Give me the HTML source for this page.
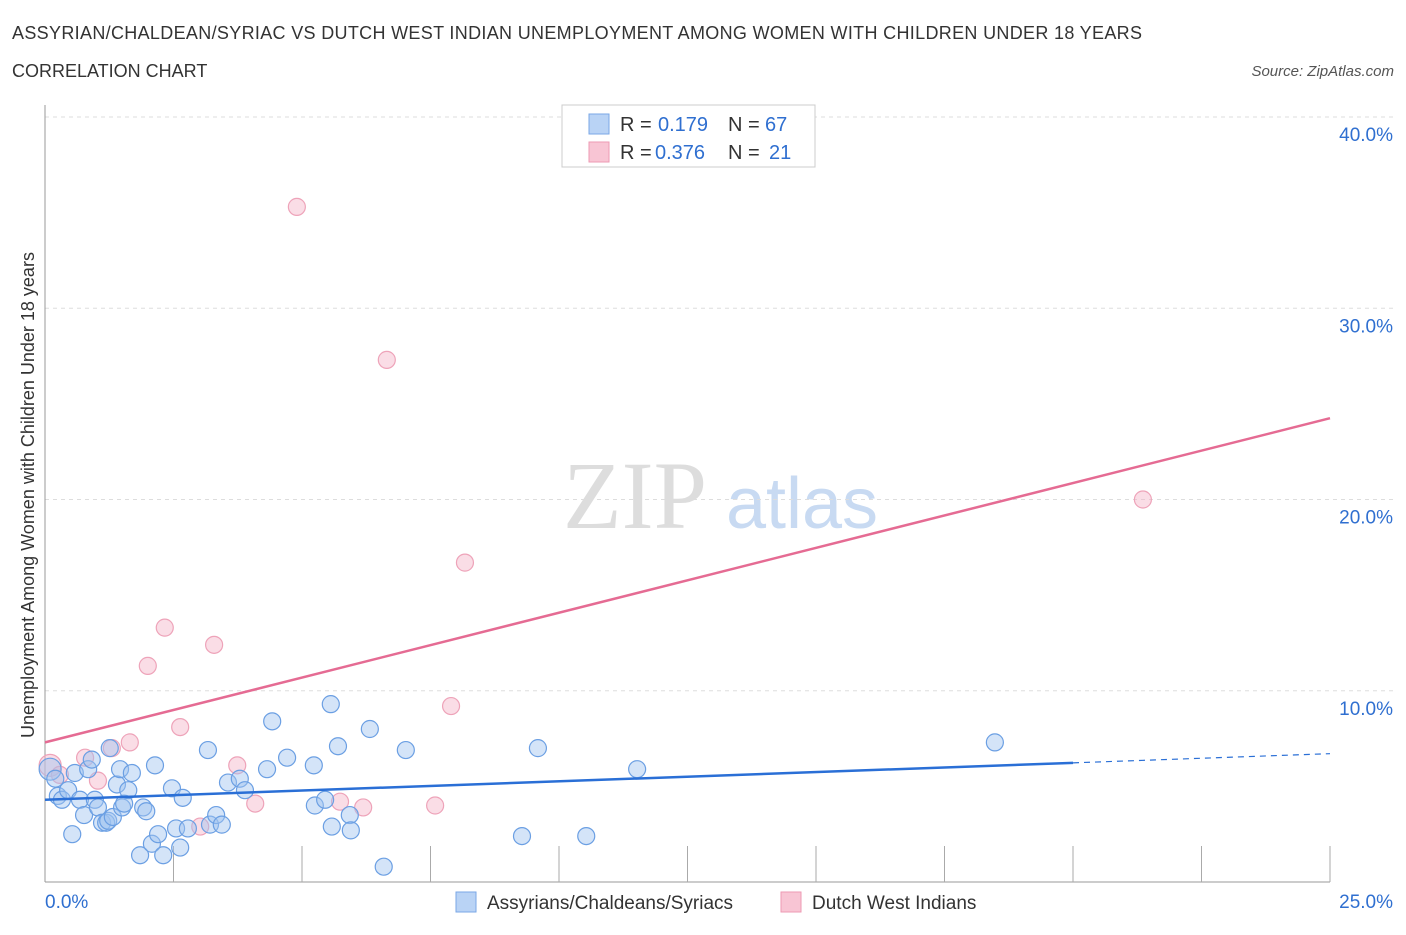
<!DOCTYPE html>
<html><head><meta charset="utf-8"><style>
body{margin:0;background:#fff;font-family:"Liberation Sans",sans-serif;}
</style></head><body>
<svg id="c" width="1406" height="930" xmlns="http://www.w3.org/2000/svg" font-family="Liberation Sans, sans-serif">
<text x="12" y="39" font-size="18" fill="#333" textLength="1130">ASSYRIAN/CHALDEAN/SYRIAC VS DUTCH WEST INDIAN UNEMPLOYMENT AMONG WOMEN WITH CHILDREN UNDER 18 YEARS</text>
<text x="12" y="77" font-size="18" fill="#333">CORRELATION CHART</text>
<text x="1394" y="76" font-size="15" fill="#555" font-style="italic" text-anchor="end">Source: ZipAtlas.com</text>
<text x="635" y="528" font-size="96" fill="#ddd" font-family="Liberation Serif, serif" text-anchor="middle">ZIP</text>
<text x="802" y="528" font-size="72" fill="#c8daf2" text-anchor="middle">atlas</text>
<g id="grid"></g>
<g id="axes"></g>
<g id="pts"></g>
<g id="lines"></g>
<text transform="translate(34,495) rotate(-90)" font-size="18" fill="#333" text-anchor="middle">Unemployment Among Women with Children Under 18 years</text>
<g>
<rect x="562" y="105" width="253" height="62" fill="#fff" stroke="#ccc"/>
<rect x="589" y="114" width="20" height="20" fill="#b9d3f5" stroke="#7aa7e6"/>
<rect x="589" y="142" width="20" height="20" fill="#f8c5d4" stroke="#ee9ab3"/>
<text x="620" y="131" font-size="20" fill="#333">R =</text>
<text x="658" y="131" font-size="20" fill="#2f6fd0">0.179</text>
<text x="728" y="131" font-size="20" fill="#333">N =</text>
<text x="765" y="131" font-size="20" fill="#2f6fd0">67</text>
<text x="620" y="159" font-size="20" fill="#333">R =</text>
<text x="655" y="159" font-size="20" fill="#2f6fd0">0.376</text>
<text x="728" y="159" font-size="20" fill="#333">N =</text>
<text x="769" y="159" font-size="20" fill="#2f6fd0">21</text>
</g>
<g>
<rect x="456" y="892" width="20" height="20" fill="#b9d3f5" stroke="#7aa7e6"/>
<text x="487" y="909" font-size="19" fill="#333">Assyrians/Chaldeans/Syriacs</text>
<rect x="781" y="892" width="20" height="20" fill="#f8c5d4" stroke="#ee9ab3"/>
<text x="812" y="909" font-size="19" fill="#333">Dutch West Indians</text>
</g>
</svg>
<script>
const blueX=[0.1,0.2,0.25,0.33,0.45,0.53,0.58,0.68,0.76,0.84,0.91,0.97,1.03,1.11,1.19,1.23,1.26,1.32,1.4,1.46,1.5,1.54,1.62,1.69,1.85,1.91,1.97,2.08,2.14,2.2,2.3,2.47,2.55,2.63,2.68,2.78,3.17,3.21,3.33,3.44,3.56,3.79,3.89,4.32,4.42,4.71,5.23,5.25,5.45,5.56,5.58,5.7,5.93,5.95,6.32,6.59,7.02,9.28,9.59,10.53,11.52,18.48];
const blueY=[5.9,5.4,4.5,4.3,4.8,2.5,5.7,4.3,3.5,5.9,6.4,4.3,3.9,3.1,3.1,3.2,7.0,3.4,5.1,5.9,3.9,4.1,4.8,5.7,1.4,3.9,3.7,2.0,6.1,2.5,1.4,4.9,2.8,1.8,4.4,2.8,6.9,3.0,3.5,3.0,5.2,5.4,4.8,5.9,8.4,6.5,6.1,4.0,4.3,9.3,2.9,7.1,3.5,2.7,8.0,0.8,6.9,2.4,7.0,2.4,5.9,7.3];
const pinkX=[0.1,0.29,0.78,1.03,1.3,1.65,2.0,2.33,2.63,3.02,3.29,3.74,4.09,4.9,5.74,6.19,6.65,7.59,7.9,8.17,21.36];
const pinkY=[6.1,5.6,6.5,5.3,7.0,7.3,11.3,13.3,8.1,2.9,12.4,6.1,4.1,35.3,4.2,3.9,27.3,4.0,9.2,16.7,20.0];
const yTicks=[10,20,30,40];
const xTickLabels=["0.0%","25.0%"];
const NS="http://www.w3.org/2000/svg";
const X=v=>45+v/25*1285, Y=v=>882-v/10*191.25;
function mk(t,a,p){const e=document.createElementNS(NS,t);for(const k in a)e.setAttribute(k,a[k]);document.getElementById(p).appendChild(e);return e;}
yTicks.forEach(t=>{
 const g=mk('line',{x1:45,x2:1395,y1:Y(t),y2:Y(t),stroke:'#ddd','stroke-dasharray':'4 4'},'grid');
 
 
 const l=mk('text',{x:1393,y:Y(t)+24,'font-size':19,fill:'#2f6fd0','text-anchor':'end'},'axes');
 l.textContent=t.toFixed(1)+'%';
 
 
});
const ax=mk('line',{x1:45,x2:45,y1:105,y2:882,stroke:'#999'},'axes');


const bx=mk('line',{x1:45,x2:1330,y1:882,y2:882,stroke:'#999'},'axes');


for(let i=1;i<=10;i++){const t=mk('line',{x1:X(i*2.5),x2:X(i*2.5),y1:846,y2:882,stroke:'#aaa'},'axes');
 
 }
[[0,'start',45],[25,'end',1393]].forEach((d,i)=>{const l=mk('text',{x:d[2],y:908,'font-size':19,fill:'#2f6fd0','text-anchor':d[1]},'axes');l.textContent=xTickLabels[i];
 
 });
pinkX.forEach((v,i)=>{const c=mk('circle',{cx:X(v),cy:Y(pinkY[i]),r:i==0?11:8.5,fill:'rgba(245,180,200,0.45)',stroke:'#eea3b9','stroke-width':1.2},'pts');
 
 });
blueX.forEach((v,i)=>{const c=mk('circle',{cx:X(v),cy:Y(blueY[i]),r:i==0?11:8.5,fill:'rgba(160,195,240,0.45)',stroke:'#6b9fe3','stroke-width':1.2},'pts');
 
 });
const bl=mk('line',{x1:X(0),y1:Y(4.3),x2:X(20),y2:Y(6.23),stroke:'#2a6fd6','stroke-width':2.5},'lines');


const bd=mk('line',{x1:X(20),y1:Y(6.23),x2:X(25),y2:Y(6.71),stroke:'#2a6fd6','stroke-width':1.2,'stroke-dasharray':'6 5'},'lines');


const pl=mk('line',{x1:X(0),y1:Y(7.3),x2:X(25),y2:Y(24.25),stroke:'#e56b93','stroke-width':2.5},'lines');


</script>
</body></html>
